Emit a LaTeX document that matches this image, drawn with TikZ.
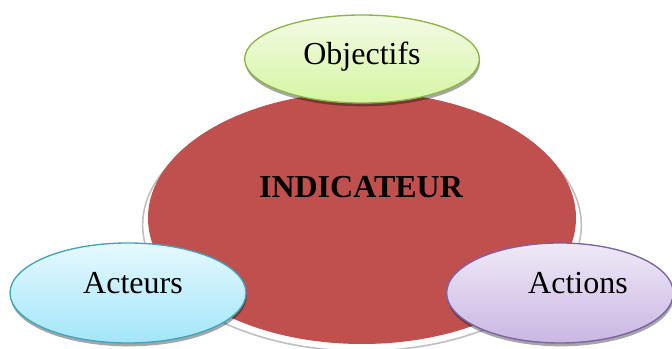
\documentclass[tikz,border=0pt]{standalone}
\usepackage{fontspec}
\setmainfont{Liberation Serif}
\usetikzlibrary{shapes.geometric,shadows}
\definecolor{indred}{HTML}{C0504D}
\definecolor{objtop}{HTML}{F2FBE4}
\definecolor{objbot}{HTML}{D6F5A2}
\definecolor{objline}{HTML}{8CB448}
\definecolor{acttop}{HTML}{E6F9FE}
\definecolor{actbot}{HTML}{A2E6FA}
\definecolor{actline}{HTML}{3FA4BE}
\definecolor{acntop}{HTML}{EFE9F7}
\definecolor{acnbot}{HTML}{C9B7E2}
\definecolor{acnline}{HTML}{7B61A6}
\tikzset{
  bubble/.style={ellipse, draw, line width=1pt, inner sep=0pt,
    drop shadow={shadow xshift=0.5pt, shadow yshift=-2.5pt, fill=black, opacity=0.35}},
  lbl/.style={font=\fontsize{24}{28}\selectfont, inner sep=0pt}
}
\begin{document}
\begin{tikzpicture}[x=0.75pt,y=-0.75pt]
\useasboundingbox (0,0) rectangle (672,349);
% centre
\node[ellipse, draw=black!25, fill=white, line width=1.2pt, minimum width=329pt, minimum height=189pt] (ring) at (362,225) {};
\node[ellipse, fill=indred, minimum width=321pt, minimum height=189pt] (ind) at (362,218) {};
\node[lbl, font=\fontsize{24}{28}\selectfont\bfseries] (indtxt) at (361,187) {INDICATEUR};
% bubbles
\node[bubble, draw=objline, top color=objtop, bottom color=objbot, minimum width=176pt, minimum height=66pt] (obj) at (362,59) {};
\node[lbl] (objtxt) at (362,57) {Objectifs};
\node[bubble, draw=actline, top color=acttop, bottom color=actbot, minimum width=177pt, minimum height=75pt] (act) at (128,293) {};
\node[lbl] (acttxt) at (133,283) {Acteurs};
\node[bubble, draw=acnline, top color=acntop, bottom color=acnbot, minimum width=170pt, minimum height=75pt] (acn) at (560,293) {};
\node[lbl] (acntxt) at (578,283) {Actions};
\end{tikzpicture}
\end{document}
